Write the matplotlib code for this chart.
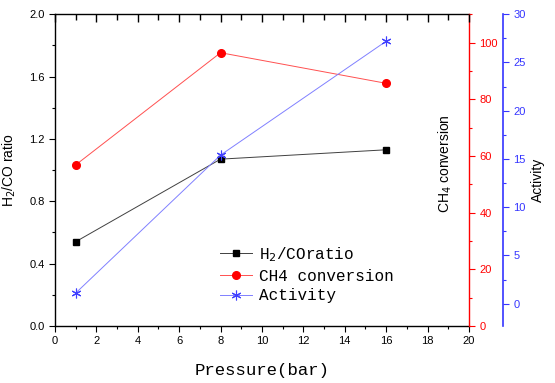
import matplotlib.pyplot as plt
from matplotlib.ticker import MultipleLocator

plt.rcParams['font.family'] = ['Liberation Sans']

pressure = [1, 8, 16]
h2co_ratio = [0.54, 1.07, 1.13]
ch4_conversion = [56.8, 96.4, 85.6]
activity = [1.1, 15.4, 27.2]

fig = plt.figure(figsize=(5.55, 3.83), dpi=100)
rect = [0.099, 0.149, 0.746, 0.814]
ax = fig.add_axes(rect)
ax2 = ax.twinx()
ax3 = ax.twinx()

l1, = ax.plot(pressure, h2co_ratio, '-', color='#404040', lw=0.7,
              marker='s', ms=5, mfc='black', mec='black', label='H$_2$/COratio')
l2, = ax2.plot(pressure, ch4_conversion, '-', color='#ff5050', lw=0.7,
               marker='o', ms=5.5, mfc='red', mec='red', label='CH4 conversion')
# asterisk marker as in Origin
l3, = ax3.plot(pressure, activity, '-', color='#8080ff', lw=0.7,
               marker=(6, 2, 0), ms=7, mec='#4040ff', mew=0.8, label='Activity')

ax.set_xlim(0, 20)
ax.set_ylim(0, 2.0)
ax2.set_ylim(0, 110)
ax3.set_ylim(-2.3, 30)

ax.xaxis.set_major_locator(MultipleLocator(2))
ax.xaxis.set_minor_locator(MultipleLocator(1))
ax.yaxis.set_major_locator(MultipleLocator(0.4))
ax.yaxis.set_minor_locator(MultipleLocator(0.2))
ax.yaxis.set_major_formatter(plt.FuncFormatter(lambda v, p: f'{v:.1f}'))
ax2.yaxis.set_major_locator(MultipleLocator(20))
ax2.yaxis.set_minor_locator(MultipleLocator(10))
ax3.yaxis.set_major_locator(MultipleLocator(5))
ax3.yaxis.set_minor_locator(MultipleLocator(2.5))

tick_font = 8
ax.tick_params(axis='both', which='major', direction='out', length=4, width=0.8, labelsize=tick_font)
ax.tick_params(axis='both', which='minor', direction='out', length=2, width=0.8)

red = '#ff0000'
blue = '#3535ff'
ax2.spines['right'].set_color(red)
ax2.tick_params(axis='y', which='both', colors=red, labelsize=tick_font, width=0.8)
ax2.tick_params(axis='y', which='major', length=4)
ax2.tick_params(axis='y', which='minor', length=2)

ax3.spines['right'].set_position(('axes', 1.082))
ax3.spines['right'].set_color(blue)
ax3.spines['right'].set_linewidth(1.2)
ax3.spines['right'].set_bounds(-2.3, 30)
ax3.tick_params(axis='y', which='both', colors=blue, labelsize=tick_font, width=0.8)
ax3.tick_params(axis='y', which='major', length=4)
ax3.tick_params(axis='y', which='minor', length=2)
for a in (ax2, ax3):
    a.spines['top'].set_visible(False)
    a.spines['left'].set_visible(False)
    a.spines['bottom'].set_visible(False)
ax.spines['right'].set_visible(False)
for s in ('left', 'bottom', 'top'):
    ax.spines[s].set_linewidth(1.0)
ax2.spines['right'].set_linewidth(1.0)

# top ticks pointing inward, on a separate transparent axes
axt = fig.add_axes(rect, frameon=False)
axt.set_xlim(0, 20)
axt.set_yticks([])
axt.xaxis.set_major_locator(MultipleLocator(2))
axt.xaxis.set_minor_locator(MultipleLocator(1))
axt.xaxis.tick_top()
axt.tick_params(axis='x', which='major', direction='in', length=6, width=1.0,
                color='black', labeltop=False)
axt.tick_params(axis='x', which='minor', direction='in', length=4, width=1.0, color='black')

ax.set_ylabel('H$_2$/CO ratio', fontsize=10)
ax.yaxis.set_label_coords(-0.089, 0.5)
ax2.set_ylabel('CH$_4$ conversion', fontsize=10)
ax2.yaxis.set_label_coords(0.922, 0.52)
ax3.set_ylabel('Activity', fontsize=10)
ax3.yaxis.set_label_coords(1.15, 0.47)

ax.set_xlabel('Pressure(bar)', family='Liberation Mono', fontsize=12.5, labelpad=12)

leg = ax.legend(handles=[l1, l2, l3], loc='upper left', bbox_to_anchor=(0.38, 0.285),
                frameon=False, handlelength=2.0, handletextpad=0.4, labelspacing=0.3,
                borderpad=0, prop={'family': 'Liberation Mono', 'size': 11.5})

fig.savefig('out.png', dpi=100)
